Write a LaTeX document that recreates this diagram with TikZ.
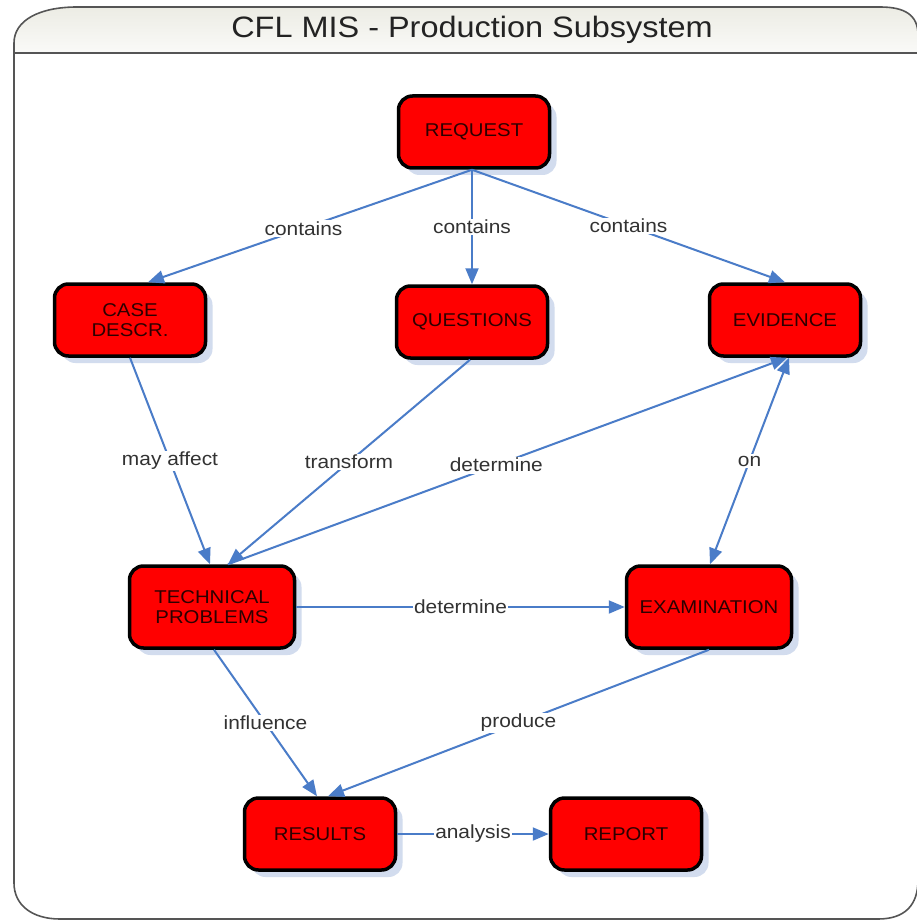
\documentclass[tikz,border=0pt]{standalone}
\usepackage{fontspec}
\setmainfont{Liberation Sans}[FakeStretch=1.1]
\usetikzlibrary{arrows.meta,shadows}
\definecolor{arrowblue}{RGB}{74,124,200}
\definecolor{shadowblue}{RGB}{210,220,238}
\definecolor{labgray}{RGB}{50,50,50}
\definecolor{framegray}{RGB}{85,85,85}
\definecolor{nodetext}{RGB}{45,0,0}
\tikzset{
  box/.style={draw=black, line width=3.5pt, fill=red, rounded corners=14pt,
    minimum width=151pt, minimum height=72pt, text=nodetext, align=center,
    font=\fontsize{18.5}{20}\selectfont, inner sep=2pt,
    drop shadow={shadow xshift=7pt, shadow yshift=-7pt, fill=shadowblue, opacity=1, draw=none}},
  bigbox/.style={box, minimum width=165pt, minimum height=82pt},
  conn/.style={draw=arrowblue, line width=2pt, -{Triangle[length=16pt,width=13pt]}},
  biconn/.style={draw=arrowblue, line width=2pt, {Triangle[length=16pt,width=13pt]}-{Triangle[length=16pt,width=13pt]}},
  lab/.style={fill=white, text=labgray, font=\fontsize{19}{21}\selectfont, inner sep=1.5pt},
}
\begin{document}
\begin{tikzpicture}[x=1pt,y=-1pt]
\useasboundingbox (0,0) rectangle (916,920);
% frame
\fill[white] (14,53) -- (918,53) -- (918,919) -- (14,919) -- cycle;
\shade[top color={rgb,255:red,236;green,236;blue,228}, bottom color={rgb,255:red,250;green,250;blue,248}]
  (14,53) -- (14,43) .. controls (14,20) and (40,7) .. (77,7) -- (880,7)
  .. controls (905,7) and (918,15) .. (918,35) -- (918,53) -- cycle;
\draw[framegray, line width=1.6pt]
  (14,43) .. controls (14,20) and (40,7) .. (77,7) -- (880,7)
  .. controls (905,7) and (918,15) .. (918,35) -- (918,880)
  .. controls (918,905) and (905,919) .. (878,919) -- (60,919)
  .. controls (32,919) and (14,905) .. (14,883) -- cycle;
\draw[framegray, line width=1.6pt] (14,53) -- (918,53);
\node[text={rgb,255:red,35;green,35;blue,35}, font=\fontsize{29.5}{32}\selectfont] (title) at (472,30) {CFL MIS - Production Subsystem};
% nodes
\node[box] (req) at (474,132) {REQUEST};
\node[box] (case) at (130,320) {CASE\\DESCR.};
\node[box] (ques) at (472,322) {QUESTIONS};
\node[box] (evid) at (785,320) {EVIDENCE};
\node[bigbox] (tech) at (212,607) {TECHNICAL\\PROBLEMS};
\node[bigbox] (exam) at (709,607) {EXAMINATION};
\node[box] (res) at (320,834) {RESULTS};
\node[box] (rep) at (626,834) {REPORT};
% connectors
\draw[conn] ([xshift=-2pt]req.south) -- node[lab, pos=0.52] {contains} ([xshift=18pt]case.north);
\draw[conn] ([xshift=-2pt]req.south) -- node[lab, pos=0.5] {contains} (ques.north);
\draw[conn] ([xshift=-2pt]req.south) -- node[lab, pos=0.5] {contains} (evid.north);
\draw[conn] (case.south) -- node[lab, pos=0.5] {may affect} ([xshift=-2pt]tech.north);
\draw[conn] ([xshift=-2pt]ques.south) -- node[lab, pos=0.5] {transform} ([xshift=16pt]tech.north);
\draw[conn] ([xshift=16pt]tech.north) -- node[lab, pos=0.48] {determine} ([xshift=2pt]evid.south);
\draw[biconn] ([xshift=4pt]evid.south) -- node[lab, pos=0.5] {on} ([xshift=1pt]exam.north);
\draw[conn] (tech.east) -- node[lab, pos=0.5] {determine} (exam.west);
\draw[conn] ([xshift=2pt]tech.south) -- node[lab, pos=0.5] {influence} ([xshift=-3pt]res.north);
\draw[conn] (exam.south) -- node[lab, pos=0.5] {produce} ([xshift=8pt]res.north);
\draw[conn] (res.east) -- node[lab, pos=0.5] {analysis} (rep.west);
\end{tikzpicture}
\end{document}
